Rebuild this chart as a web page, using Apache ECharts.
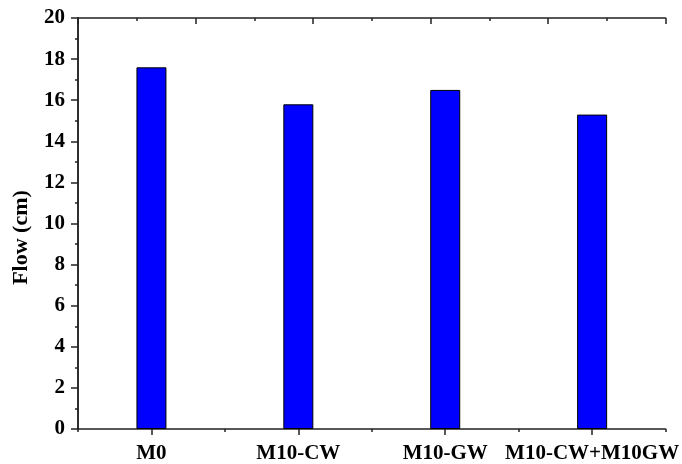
<!DOCTYPE html>
<html>
<head>
<meta charset="utf-8">
<script src="https://cdn.jsdelivr.net/npm/echarts@6/dist/echarts.min.js"></script>
<style>html,body{margin:0;padding:0;background:#fff}#c{width:682px;height:464px}</style>
</head>
<body>
<div id="c"></div>
<script>
var categories = ['M0', 'M10-CW', 'M10-GW', 'M10-CW+M10GW'];
var flowValues = [17.6, 15.8, 16.5, 15.3];
var yTickLabels = ['0','2','4','6','8','10','12','14','16','18','20'];
var yAxisName = 'Flow (cm)';

var FONT = '"Liberation Serif", "Times New Roman", serif';
var LINE = '#222';
var chart = echarts.init(document.getElementById('c'), null, {renderer: 'canvas'});
chart.setOption({
  animation: false,
  backgroundColor: '#fff',
  grid: {left: 78, right: 15, top: 18, bottom: 35, containLabel: false},
  xAxis: [
    {
      type: 'category', position: 'bottom', data: categories, boundaryGap: true,
      axisLine: {show: true, lineStyle: {color: LINE, width: 1.5}},
      axisTick: {show: true, alignWithLabel: true, length: 6, lineStyle: {color: LINE, width: 1.5}},
      axisLabel: {show: true, color: '#000', fontFamily: FONT, fontWeight: 'bold', fontSize: 21, margin: 14, interval: 0, hideOverlap: false},
      splitLine: {show: false}
    },
    {
      type: 'value', position: 'bottom', min: 0, max: 4, interval: 1,
      axisLine: {show: false},
      axisTick: {show: true, length: 3, lineStyle: {color: LINE, width: 1.5}},
      axisLabel: {show: false}, splitLine: {show: false}
    },
    {
      type: 'value', position: 'top', min: 0, max: 10, interval: 2,
      axisLine: {show: true, lineStyle: {color: LINE, width: 1.5}},
      axisTick: {show: true, inside: true, length: 6, lineStyle: {color: LINE, width: 1.5}},
      minorTick: {show: true, splitNumber: 2, length: 3, lineStyle: {color: LINE, width: 1.5}},
      axisLabel: {show: false}, splitLine: {show: false}
    }
  ],
  yAxis: [
    {
      type: 'value', position: 'left', min: 0, max: 20, interval: 2,
      name: yAxisName, nameLocation: 'middle', nameGap: 46, nameRotate: 90,
      nameTextStyle: {color: '#000', fontFamily: FONT, fontWeight: 'bold', fontSize: 22, padding: [0, 28, 0, 0]},
      axisLine: {show: true, lineStyle: {color: LINE, width: 1.5}},
      axisTick: {show: true, length: 7, lineStyle: {color: LINE, width: 1.5}},
      minorTick: {show: true, splitNumber: 2, length: 3, lineStyle: {color: LINE, width: 1.5}},
      axisLabel: {show: true, color: '#000', fontFamily: FONT, fontWeight: 'bold', fontSize: 21, margin: 13,
        formatter: function (v) { return yTickLabels[Math.round(v / 2)]; }},
      splitLine: {show: false}
    },
    {
      type: 'value', position: 'right', min: 0, max: 20, interval: 4,
      axisLine: {show: true, lineStyle: {color: LINE, width: 1.5}},
      axisTick: {show: true, inside: true, length: 7, lineStyle: {color: LINE, width: 1.5}},
      minorTick: {show: true, splitNumber: 2, length: 3, lineStyle: {color: LINE, width: 1.5}},
      axisLabel: {show: false}, splitLine: {show: false}
    }
  ],
  series: [{
    type: 'bar', xAxisIndex: 0, yAxisIndex: 0, data: flowValues, barWidth: 30,
    itemStyle: {color: '#0000FF', borderColor: '#000', borderWidth: 1}
  }]
});
</script>
</body>
</html>
